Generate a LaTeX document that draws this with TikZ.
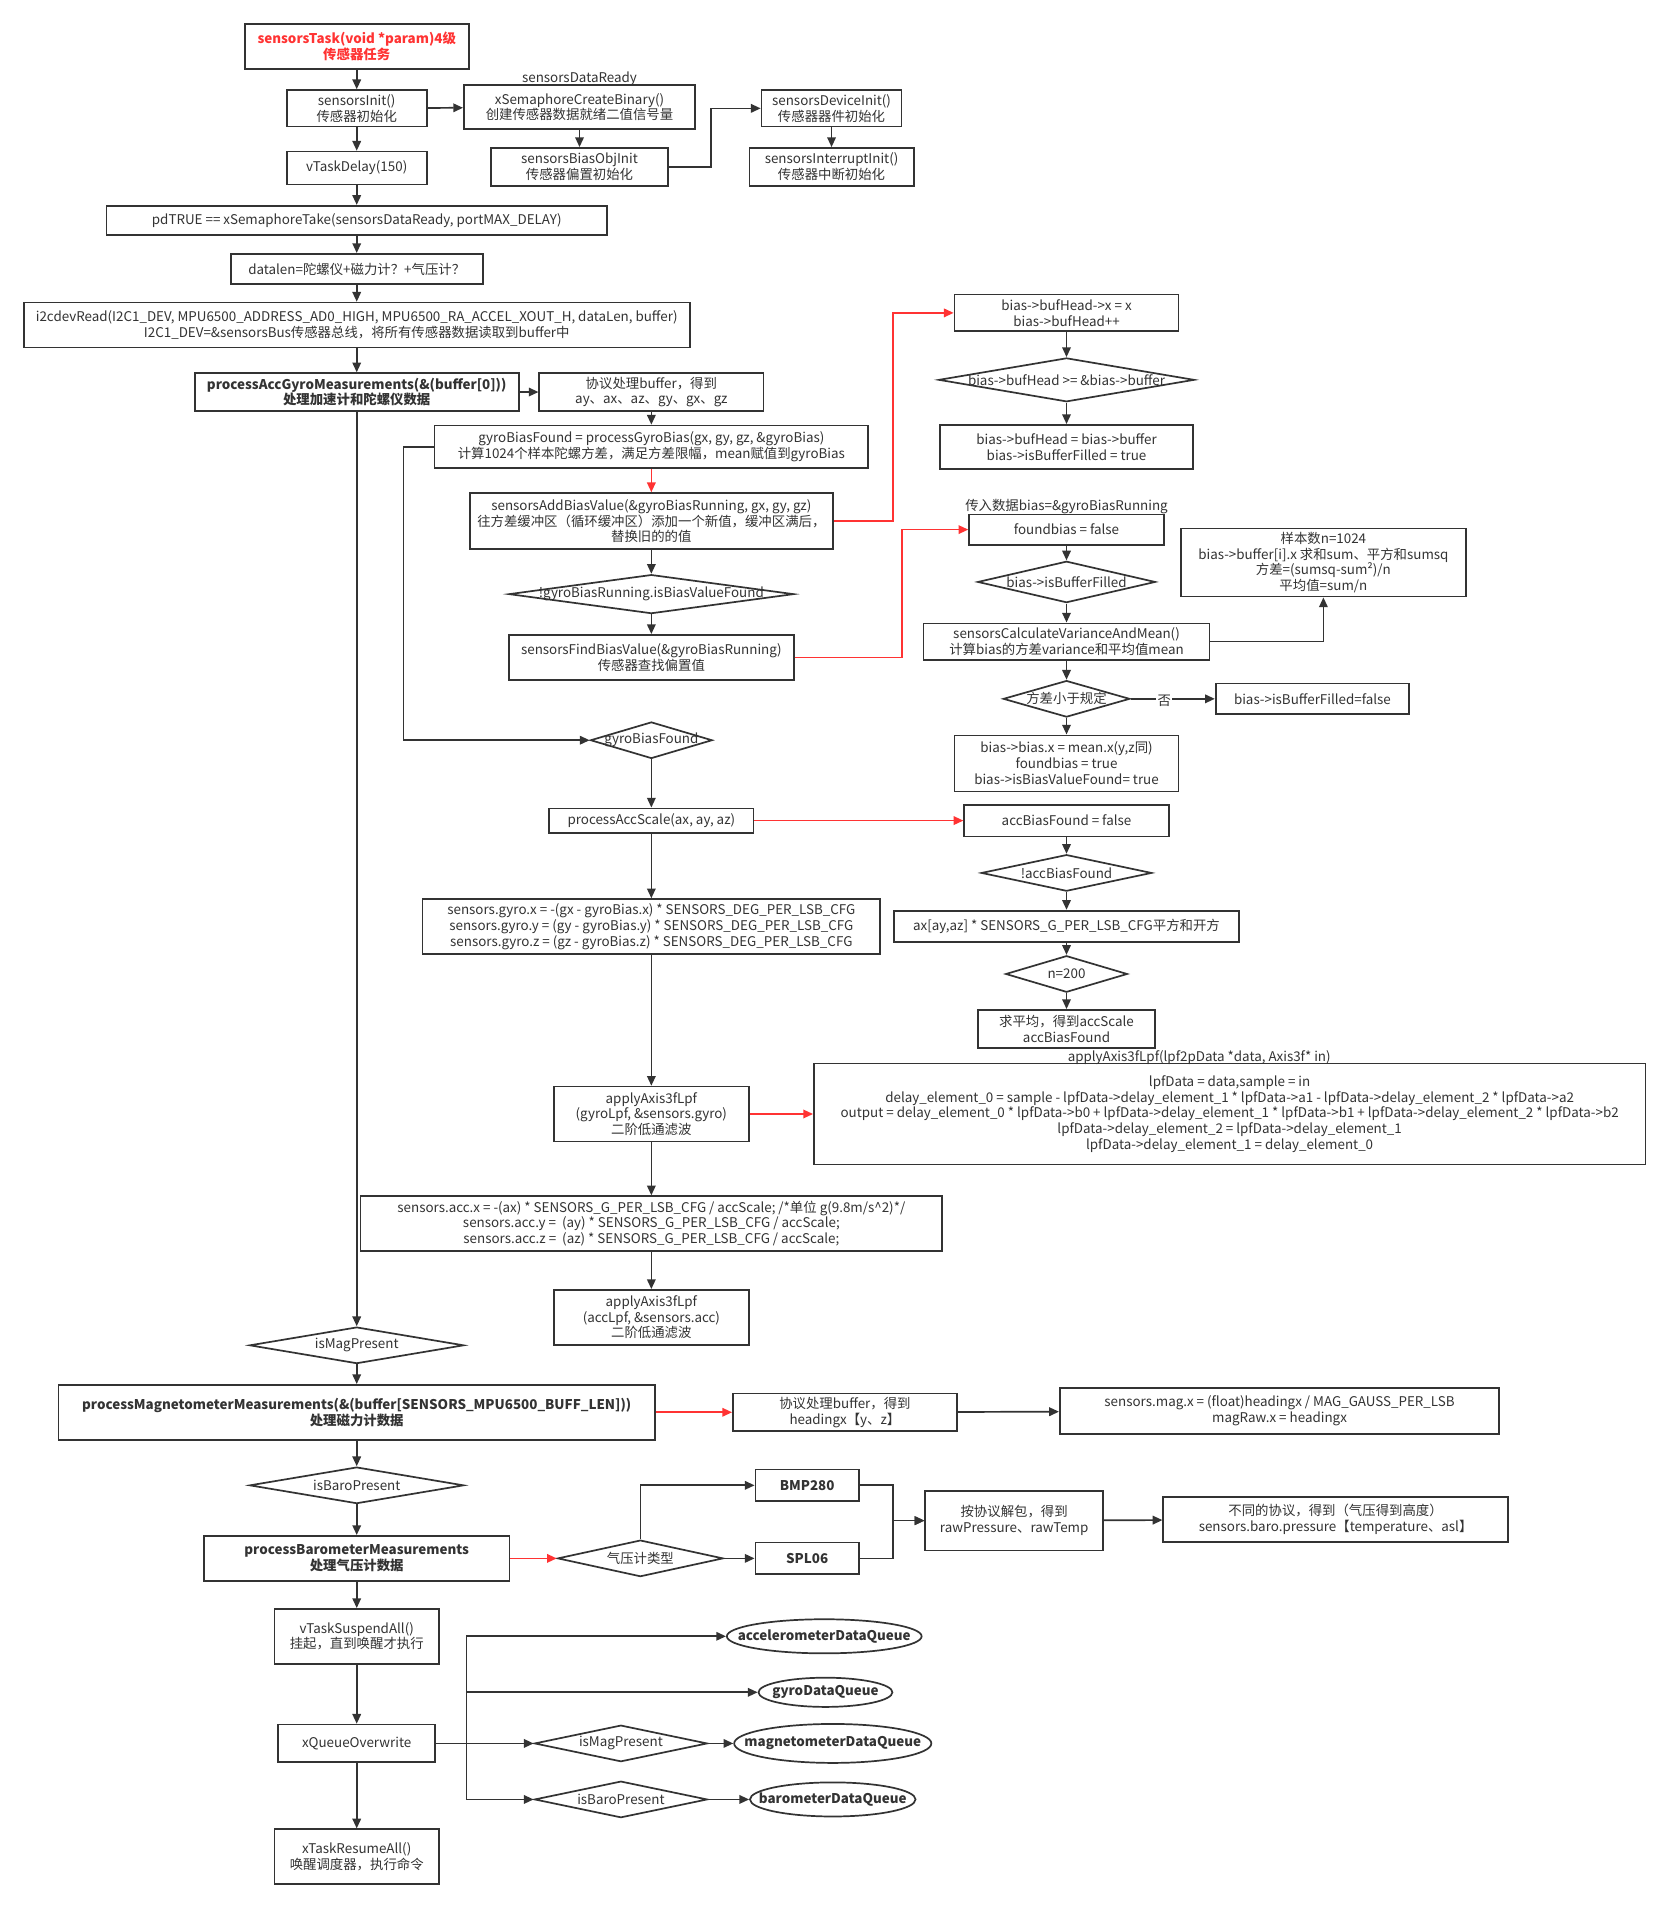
\documentclass[tikz,border=0pt]{standalone}
\usepackage{fontspec}
\setmainfont{Noto Sans CJK SC}
\usetikzlibrary{arrows.meta,shapes.geometric}
\definecolor{lc}{HTML}{333333}
\definecolor{tc}{HTML}{333333}
\definecolor{rc}{HTML}{FF3333}
\newcommand{\fs}{\fontsize{11}{13}\selectfont}
\tikzset{
  bx/.style={draw=lc, line width=1.4pt, fill=white, align=center, inner sep=1pt, font=\fs, text=tc},
  dm/.style={draw=lc, line width=1.4pt, fill=white, diamond, inner sep=0pt},
  el/.style={draw=lc, line width=1.4pt, fill=white, ellipse, inner sep=0pt},
  tx/.style={font=\fs, text=tc, align=center, inner sep=0pt},
  ar/.style={draw=lc, line width=1.4pt, -{Triangle[length=8pt,width=7pt]}},
  ln/.style={draw=lc, line width=1.4pt},
  rar/.style={draw=rc, line width=1.4pt, -{Triangle[length=8pt,width=7pt]}},
}
\newcommand{\bxn}[6]{\node[bx, minimum width=#4pt, minimum height=#5pt] (#1) at (#2,#3) {#6};}
\newcommand{\dmn}[6]{\node[dm, minimum width=#4pt, minimum height=#5pt] (#1) at (#2,#3) {}; \node[tx] at (#1.center) {#6};}
\newcommand{\eln}[6]{\node[el, minimum width=#4pt, minimum height=#5pt] (#1) at (#2,#3) {}; \node[tx, font=\fs\bfseries] at (#1.center) {#6};}
\begin{document}
\begin{tikzpicture}[x=1pt,y=-1pt]
\useasboundingbox[fill=white] (0,0) rectangle (1372,1568);
% ---------- main column ----------
\node[bx, minimum width=184pt, minimum height=37pt, text=rc, font=\fs\bfseries] (t0) at (293,38) {sensorsTask(void *param)4级\\传感器任务};
\bxn{n1}{293}{89}{115}{30}{sensorsInit()\\传感器初始化}
\bxn{sem}{476}{88}{190}{36}{xSemaphoreCreateBinary()\\创建传感器数据就绪二值信号量}
\node[tx] at (476,65) {sensorsDataReady};
\bxn{boi}{476}{137}{145}{31}{sensorsBiasObjInit\\传感器偏置初始化}
\bxn{dev}{683}{89}{115}{30}{sensorsDeviceInit()\\传感器器件初始化}
\bxn{intr}{683}{137}{135}{31}{sensorsInterruptInit()\\传感器中断初始化}
\bxn{dly}{293}{138}{115}{27}{vTaskDelay(150)}
\bxn{take}{293}{181}{411}{24}{pdTRUE == xSemaphoreTake(sensorsDataReady, portMAX\_DELAY)}
\bxn{dlen}{293}{221}{207}{25}{datalen=陀螺仪+磁力计？+气压计？}
\bxn{i2c}{293}{267}{547}{37}{i2cdevRead(I2C1\_DEV, MPU6500\_ADDRESS\_AD0\_HIGH, MPU6500\_RA\_ACCEL\_XOUT\_H, dataLen, buffer)\\I2C1\_DEV=\&sensorsBus传感器总线，将所有传感器数据读取到buffer中}
\node[bx, minimum width=266pt, minimum height=31pt, font=\fs\bfseries] (pag) at (293,322) {processAccGyroMeasurements(\&(buffer[0]))\\处理加速计和陀螺仪数据};
\bxn{prot}{535}{322}{184}{31}{协议处理buffer，得到\\ay、ax、az、gy、gx、gz}
\bxn{gbf}{535}{367}{356}{35}{gyroBiasFound = processGyroBias(gx, gy, gz, \&gyroBias)\\计算1024个样本陀螺方差，满足方差限幅，mean赋值到gyroBias}
\bxn{addb}{535}{428}{298}{46}{sensorsAddBiasValue(\&gyroBiasRunning, gx, gy, gz)\\往方差缓冲区（循环缓冲区）添加一个新值，缓冲区满后，\\替换旧的的值}
\dmn{dfound}{535}{488}{234}{32}{!gyroBiasRunning.isBiasValueFound}
\bxn{find}{535}{540}{234}{37}{sensorsFindBiasValue(\&gyroBiasRunning)\\传感器查找偏置值}
\dmn{gbd}{535}{608}{100}{30}{gyroBiasFound}
\bxn{pas}{535}{674}{168}{20}{processAccScale(ax, ay, az)}
\bxn{gyf}{535}{761}{376}{45}{sensors.gyro.x = -(gx - gyroBias.x) * SENSORS\_DEG\_PER\_LSB\_CFG\\sensors.gyro.y = (gy - gyroBias.y) * SENSORS\_DEG\_PER\_LSB\_CFG\\sensors.gyro.z = (gz - gyroBias.z) * SENSORS\_DEG\_PER\_LSB\_CFG}
\bxn{lpg}{535}{915}{160}{45}{applyAxis3fLpf\\(gyroLpf, \&sensors.gyro)\\二阶低通滤波}
\bxn{lpf}{1010}{915}{683}{83}{lpfData = data,sample = in\\delay\_element\_0 = sample - lpfData->delay\_element\_1 * lpfData->a1 - lpfData->delay\_element\_2 * lpfData->a2\\output = delay\_element\_0 * lpfData->b0 + lpfData->delay\_element\_1 * lpfData->b1 + lpfData->delay\_element\_2 * lpfData->b2\\lpfData->delay\_element\_2 = lpfData->delay\_element\_1\\lpfData->delay\_element\_1 = delay\_element\_0}
\node[tx] at (985,869) {applyAxis3fLpf(lpf2pData *data, Axis3f* in)};
\bxn{accf}{535}{1005}{478}{45}{sensors.acc.x = -(ax) * SENSORS\_G\_PER\_LSB\_CFG / accScale; /*单位 g(9.8m/s\textasciicircum 2)*/\\sensors.acc.y = \ (ay) * SENSORS\_G\_PER\_LSB\_CFG / accScale;\\sensors.acc.z = \ (az) * SENSORS\_G\_PER\_LSB\_CFG / accScale;}
\bxn{lpa}{535}{1082}{160}{45}{applyAxis3fLpf\\(accLpf, \&sensors.acc)\\二阶低通滤波}
\dmn{ism}{293}{1105}{176}{30}{isMagPresent}
\node[bx, minimum width=490pt, minimum height=45pt, font=\fs\bfseries] (pmag) at (293,1160) {processMagnetometerMeasurements(\&(buffer[SENSORS\_MPU6500\_BUFF\_LEN]))\\处理磁力计数据};
\bxn{hd}{694}{1160}{184}{31}{协议处理buffer，得到\\headingx【y、z】}
\bxn{magx}{1051}{1159}{361}{38}{sensors.mag.x = (float)headingx / MAG\_GAUSS\_PER\_LSB\\magRaw.x = headingx}
\dmn{isb}{293}{1220}{176}{30}{isBaroPresent}
\node[bx, minimum width=251pt, minimum height=37pt, font=\fs\bfseries] (pbaro) at (293,1280) {processBarometerMeasurements\\处理气压计数据};
\dmn{btype}{526}{1280}{136}{30}{气压计类型}
\node[bx, minimum width=85pt, minimum height=26pt, font=\fs\bfseries] (bmp) at (663,1220) {BMP280};
\node[bx, minimum width=85pt, minimum height=26pt, font=\fs\bfseries] (spl) at (663,1280) {SPL06};
\bxn{unp}{833}{1249}{146}{49}{按协议解包，得到\\rawPressure、rawTemp}
\bxn{alt}{1097}{1248}{283}{37}{不同的协议，得到（气压得到高度）\\sensors.baro.pressure【temperature、asl】}
\bxn{susp}{293}{1344}{135}{45}{vTaskSuspendAll()\\挂起，直到唤醒才执行}
\bxn{xq}{293}{1432}{129}{31}{xQueueOverwrite}
\bxn{res}{293}{1525}{135}{45}{xTaskResumeAll()\\唤醒调度器，执行命令}
\eln{accq}{677}{1344}{160}{28}{accelerometerDataQueue}
\eln{gyq}{678}{1390}{110}{24}{gyroDataQueue}
\dmn{ism2}{510}{1432}{142}{30}{isMagPresent}
\eln{magq}{684}{1432}{162}{32}{magnetometerDataQueue}
\dmn{isb2}{510}{1478}{142}{30}{isBaroPresent}
\eln{barq}{684}{1478}{136}{28}{barometerDataQueue}
% ---------- right column ----------
\bxn{bh}{876}{257}{184}{30}{bias->bufHead->x = x\\bias->bufHead++}
\dmn{bhd}{876}{312}{210}{36}{bias->bufHead >= \&bias->buffer}
\bxn{bhr}{876}{367}{208}{36}{bias->bufHead = bias->buffer\\bias->isBufferFilled = true}
\bxn{fb}{876}{435}{160}{25}{foundbias = false}
\node[tx] at (876,416) {传入数据bias=\&gyroBiasRunning};
\dmn{bfd}{876}{478}{146}{34}{bias->isBufferFilled}
\bxn{calc}{876}{527}{235}{30}{sensorsCalculateVarianceAndMean()\\计算bias的方差variance和平均值mean}
\bxn{samp}{1087}{462}{234}{56}{样本数n=1024\\bias->buffer[i].x 求和sum、平方和sumsq\\方差=(sumsq-sum²)/n\\平均值=sum/n}
\dmn{vd}{876}{574}{104}{30}{方差小于规定}
\bxn{bff}{1078}{574}{159}{25}{bias->isBufferFilled=false}
\bxn{bbx}{876}{627}{184}{46}{bias->bias.x = mean.x(y,z同)\\foundbias = true\\bias->isBiasValueFound= true}
\bxn{abf}{876}{674}{168}{26}{accBiasFound = false}
\dmn{nabf}{876}{717}{140}{30}{!accBiasFound}
\bxn{axs}{876}{761}{283}{26}{ax[ay,az] * SENSORS\_G\_PER\_LSB\_CFG平方和开方}
\dmn{n200}{876}{800}{100}{30}{n=200}
\bxn{avg}{876}{845}{145}{31}{求平均，得到accScale\\accBiasFound}
% ---------- connectors ----------
\draw[ar] (t0) -- (n1);
\draw[ar] (n1) -- (sem);
\draw[ar] (sem) -- (boi);
\draw[ar] (boi.east) -- ++(35,0) |- (dev.west);
\draw[ar] (dev) -- (intr);
\draw[ar] (n1) -- (dly);
\draw[ar] (dly) -- (take);
\draw[ar] (take) -- (dlen);
\draw[ar] (dlen) -- (i2c);
\draw[ar] (i2c) -- (pag);
\draw[ar] (pag) -- (prot);
\draw[ar] (prot) -- (gbf);
\draw[rar] (gbf) -- (addb);
\draw[ar] (addb) -- (dfound);
\draw[ar] (dfound) -- (find);
\draw[ar] (gbf.west) -- ++(-25,0) |- (gbd.west);
\draw[rar] (addb.east) -- ++(49,0) |- (bh.west);
\draw[rar] (find.east) -- ++(88,0) |- (fb.west);
\draw[ar] (bh) -- (bhd);
\draw[ar] (bhd) -- (bhr);
\draw[ar] (fb) -- (bfd);
\draw[ar] (bfd) -- (calc);
\draw[ar] (calc.east) -| (samp.south);
\draw[ar] (calc) -- (vd);
\draw[ar] (vd) -- (bff) node[pos=0.4, tx, fill=white, inner sep=1pt, yshift=-2pt] {否};
\draw[ar] (vd) -- (bbx);
\draw[ar] (gbd) -- (pas);
\draw[rar] (pas) -- (abf);
\draw[ar] (abf) -- (nabf);
\draw[ar] (nabf) -- (axs);
\draw[ar] (axs) -- (n200);
\draw[ar] (n200) -- (avg);
\draw[ar] (pas) -- (gyf);
\draw[ar] (gyf) -- (lpg);
\draw[rar] (lpg) -- (lpf);
\draw[ar] (lpg) -- (accf);
\draw[ar] (accf) -- (lpa);
\draw[ar] (pag) -- (ism);
\draw[ar] (ism) -- (pmag);
\draw[rar] (pmag) -- (hd);
\draw[ar] (hd) -- (magx);
\draw[ar] (pmag) -- (isb);
\draw[ar] (isb) -- (pbaro);
\draw[rar] (pbaro) -- (btype);
\draw[ar] (btype.north) |- (bmp.west);
\draw[ar] (btype) -- (spl);
\draw[ar] (bmp.east) -- ++(27,0) |- (unp.west);
\draw[ar] (spl.east) -- ++(27,0) |- (unp.west);
\draw[ar] (unp) -- (alt);
\draw[ar] (pbaro) -- (susp);
\draw[ar] (susp) -- (xq);
\draw[ar] (xq) -- (res);
\draw[ln] (xq.east) -- ++(25,0) coordinate (fk);
\draw[ar] (fk) |- (accq.west);
\draw[ar] (fk) |- (gyq.west);
\draw[ar] (fk) -- (ism2.west);
\draw[ar] (fk) |- (isb2.west);
\draw[ar] (ism2) -- (magq);
\draw[ar] (isb2) -- (barq);
\end{tikzpicture}
\end{document}
